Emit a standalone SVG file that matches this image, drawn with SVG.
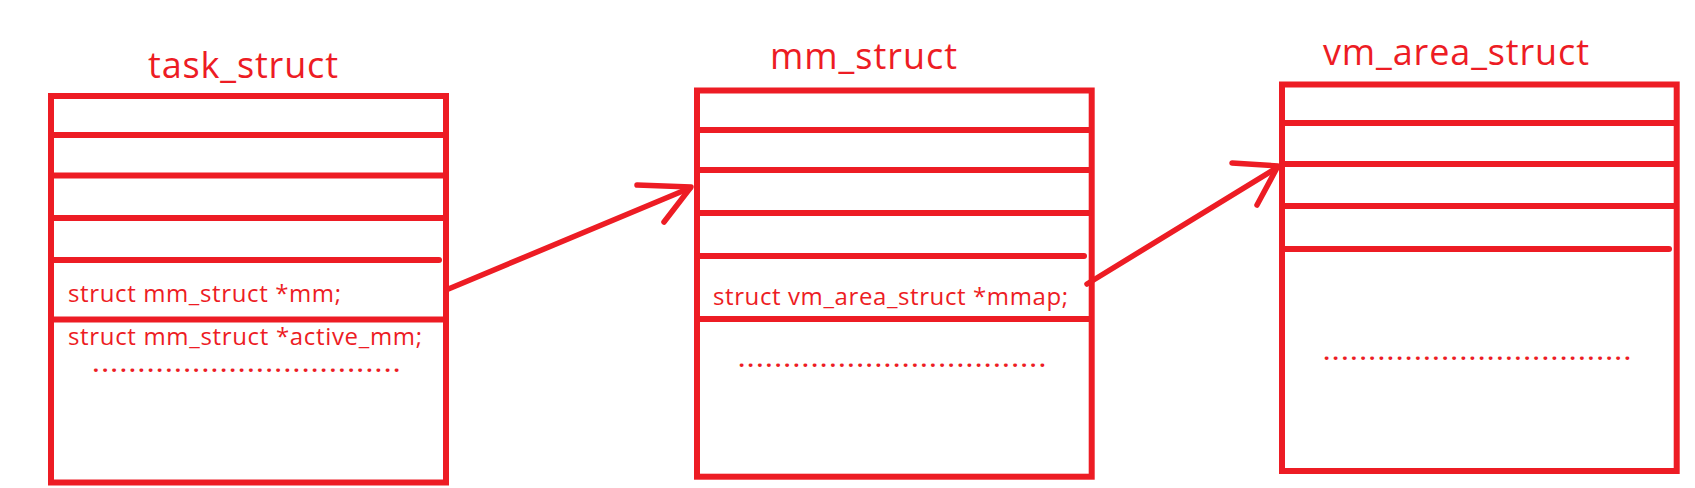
<svg xmlns="http://www.w3.org/2000/svg" width="1695" height="488" viewBox="0 0 1695 488">
<style>
.box{fill:#fff;stroke:#ED1C24;stroke-width:6}
.sep{stroke:#ED1C24;stroke-width:6;fill:none}
.sepr{stroke:#ED1C24;stroke-width:6;fill:none;stroke-linecap:round}
.title{font-family:"Open Sans","Noto Sans",sans-serif;font-size:36px;fill:#ED1C24}
.field{font-family:"Open Sans","Noto Sans",sans-serif;font-size:24px;fill:#ED1C24}
.dots{font-family:"Open Sans","Noto Sans",sans-serif;font-size:22px;font-weight:bold;fill:#ED1C24}
.arrow{stroke:#ED1C24;stroke-width:5.5;fill:none;stroke-linecap:round;stroke-linejoin:round}
</style>
<rect width="1695" height="488" fill="#fff"/>
<g id="node-task_struct">
<text class="title" x="148" y="78" textLength="190">task_struct</text>
<rect class="box" x="51" y="96" width="395" height="386.5"/>
<line class="sep" x1="51" y1="135" x2="446" y2="135"/>
<line class="sep" x1="51" y1="175.5" x2="446" y2="175.5"/>
<line class="sep" x1="51" y1="218" x2="446" y2="218"/>
<line class="sepr" x1="53" y1="260" x2="439" y2="260"/>
<line class="sep" x1="51" y1="319.5" x2="446" y2="319.5"/>
<text class="field" x="68" y="302" textLength="273">struct mm_struct *mm;</text>
<text class="field" x="68" y="344.5" textLength="354">struct mm_struct *active_mm;</text>
<text class="dots" x="92.8" y="372" textLength="307">..................................</text>
</g>
<g id="node-mm_struct">
<text class="title" x="770" y="69" textLength="187">mm_struct</text>
<rect class="box" x="697" y="90.5" width="394.7" height="386.2"/>
<line class="sep" x1="697" y1="130" x2="1091.7" y2="130"/>
<line class="sep" x1="697" y1="170" x2="1091.7" y2="170"/>
<line class="sep" x1="697" y1="213" x2="1091.7" y2="213"/>
<line class="sepr" x1="699" y1="256" x2="1084" y2="256"/>
<line class="sep" x1="697" y1="319" x2="1091.7" y2="319"/>
<text class="field" x="713" y="304.5" textLength="355">struct vm_area_struct *mmap;</text>
<text class="dots" x="738.5" y="367" textLength="307">..................................</text>
</g>
<g id="node-vm_area_struct">
<text class="title" x="1323" y="65" textLength="266">vm_area_struct</text>
<rect class="box" x="1282" y="84.5" width="394.7" height="386.5"/>
<line class="sep" x1="1282" y1="123" x2="1676.7" y2="123"/>
<line class="sep" x1="1282" y1="164" x2="1676.7" y2="164"/>
<line class="sep" x1="1282" y1="206" x2="1676.7" y2="206"/>
<line class="sepr" x1="1284" y1="249" x2="1669" y2="249"/>
<text class="dots" x="1323.5" y="360" textLength="307">..................................</text>
</g>
<g id="connectors">
<path class="arrow" d="M446,290 L690,188"/>
<path class="arrow" d="M637,185 L691,187 L664,222"/>
<path class="arrow" d="M1087,284 L1278,167"/>
<path class="arrow" d="M1232,163 L1278,166 L1257,205"/>
</g>
</svg>
